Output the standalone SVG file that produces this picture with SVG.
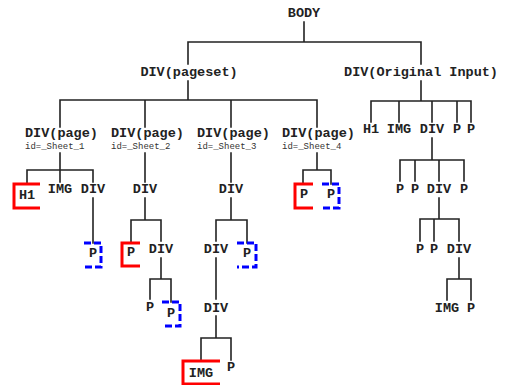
<svg xmlns="http://www.w3.org/2000/svg" width="507" height="385" viewBox="0 0 507 385">
<style>
.t{font-family:"Liberation Mono","Courier New",monospace;font-weight:bold;font-size:13.5px;fill:#222;text-anchor:middle}
.s{font-family:"Liberation Mono","Courier New",monospace;font-size:9px;fill:#333}
.l{font-family:"Liberation Mono","Courier New",monospace;font-weight:bold;font-size:13.5px;fill:#222}
.c{stroke:#222;stroke-width:1.6;fill:none;stroke-linecap:square}
.red{stroke:#ff0000;stroke-width:3;fill:none}
.blue{stroke:#0000ff;stroke-width:3;fill:none;stroke-dasharray:7,3}
</style>
<rect width="507" height="385" fill="#ffffff"/>
<g id="connectors" class="c">
<path d="M304,22V42M188,42H421M188,42V64M421,42V64"/>
<path d="M188,81V100M60,100H317M60,100V127M145,100V127M231,100V127M317,100V127"/>
<path d="M421,81V101M371,101H471M371,101V122M399,101V122M432,101V122M457,101V122M471,101V122"/>
<path d="M60,153V170M27,170H93M27,170V184M60,170V182M93,170V182M93,198V243"/>
<path d="M145,153V182M145,198V220M131,220H161M131,220V243M161,220V241M161,258V279M150,279H171M150,279V299M171,279V302"/>
<path d="M231,153V182M231,198V220M216,220H247M216,220V241M247,220V243M216,258V299M216,316V338M201,338H231M201,338V361M231,338V360"/>
<path d="M317,153V170M303,170H331M303,170V184M331,170V184"/>
<path d="M432,138V160M400,160H464M400,160V181M415,160V181M439,160V181M464,160V181"/>
<path d="M439,198V219M420,219H459M420,219V241M434,219V241M459,219V241"/>
<path d="M459,258V279M447,279H471M447,279V300M471,279V300"/>
</g>
<g id="body"><text class="t" x="304" y="17">BODY</text></g>
<g id="pageset"><text class="t" x="189" y="76">DIV(pageset)</text></g>
<g id="original"><text class="t" x="421" y="76">DIV(Original Input)</text></g>
<g id="page1"><text class="l" x="25" y="137">DIV(page)</text><text class="s" x="25" y="149">id=_Sheet_1</text></g>
<g id="page2"><text class="l" x="111" y="137">DIV(page)</text><text class="s" x="111" y="149">id=_Sheet_2</text></g>
<g id="page3"><text class="l" x="197" y="137">DIV(page)</text><text class="s" x="197" y="149">id=_Sheet_3</text></g>
<g id="page4"><text class="l" x="282" y="137">DIV(page)</text><text class="s" x="282" y="149">id=_Sheet_4</text></g>
<g id="p1-h1"><path class="red" d="M40,184H14V208H40"/><text class="t" x="27" y="199">H1</text></g>
<g id="p1-img"><text class="t" x="60" y="193">IMG</text></g>
<g id="p1-div"><text class="t" x="93" y="193">DIV</text></g>
<g id="p1-p"><path class="blue" d="M84,243H101V267H84"/><text class="t" x="93" y="257">P</text></g>
<g id="p2-div"><text class="t" x="145" y="193">DIV</text></g>
<g id="p2-p"><path class="red" d="M140,243H122V266H140"/><text class="t" x="131" y="256">P</text></g>
<g id="p2-div2"><text class="t" x="161" y="253">DIV</text></g>
<g id="p2-p2"><text class="t" x="150" y="311">P</text></g>
<g id="p2-p3"><path class="blue" d="M162,302H180V326H162"/><text class="t" x="171" y="317">P</text></g>
<g id="p3-div"><text class="t" x="231" y="193">DIV</text></g>
<g id="p3-div2"><text class="t" x="216" y="253">DIV</text></g>
<g id="p3-p"><path class="blue" d="M237,243H256V267H237"/><text class="t" x="247" y="257">P</text></g>
<g id="p3-div3"><text class="t" x="216" y="312">DIV</text></g>
<g id="p3-img"><path class="red" d="M220,361H183V384H220"/><text class="t" x="201" y="377">IMG</text></g>
<g id="p3-p2"><text class="t" x="231" y="371">P</text></g>
<g id="p4-p1"><path class="red" d="M313,184H295V208H313"/><text class="t" x="304" y="198">P</text></g>
<g id="p4-p2"><path class="blue" d="M322,184H339V208H322"/><text class="t" x="331" y="198">P</text></g>
<g id="o-h1"><text class="t" x="371" y="133">H1</text></g>
<g id="o-img"><text class="t" x="399" y="133">IMG</text></g>
<g id="o-div"><text class="t" x="432" y="133">DIV</text></g>
<g id="o-p1"><text class="t" x="457" y="133">P</text></g>
<g id="o-p2"><text class="t" x="471" y="133">P</text></g>
<g id="o2-p1"><text class="t" x="400" y="193">P</text></g>
<g id="o2-p2"><text class="t" x="415" y="193">P</text></g>
<g id="o2-div"><text class="t" x="439" y="193">DIV</text></g>
<g id="o2-p3"><text class="t" x="464" y="193">P</text></g>
<g id="o3-p1"><text class="t" x="420" y="253">P</text></g>
<g id="o3-p2"><text class="t" x="434" y="253">P</text></g>
<g id="o3-div"><text class="t" x="459" y="253">DIV</text></g>
<g id="o4-img"><text class="t" x="447" y="312">IMG</text></g>
<g id="o4-p"><text class="t" x="471" y="312">P</text></g>
</svg>
